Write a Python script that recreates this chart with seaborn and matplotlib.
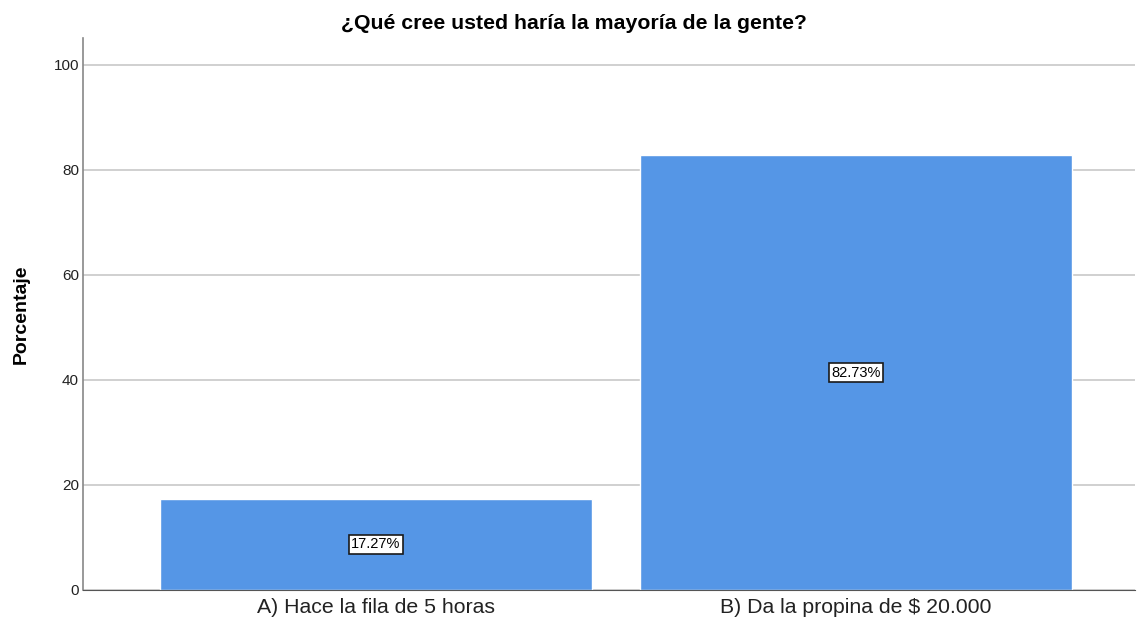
import pandas as pd
import matplotlib.pyplot as plt
import seaborn as sns

categorias = ["A) Hace la fila de 5 horas", "B) Da la propina de $ 20.000"]
porcentajes = [17.27, 82.73]
etiquetas = ["17.27%", "82.73%"]

df = pd.DataFrame({"respuesta": categorias, "porcentaje": porcentajes})

sns.set_style("white")
plt.rcParams["font.family"] = ["Liberation Sans", "DejaVu Sans"]
plt.rcParams["text.color"] = "black"
plt.rcParams["axes.labelcolor"] = "black"
plt.rcParams["xtick.color"] = "black"
plt.rcParams["ytick.color"] = "black"

fig = plt.figure(figsize=(11.38, 6.24), dpi=100)
ax = fig.add_axes([0.073, 0.055, 0.924, 0.884])

ax.yaxis.grid(True, color="#c8c8c8", linewidth=1.2)
ax.set_axisbelow(True)

sns.barplot(data=df, x="respuesta", y="porcentaje", color="#5596e6",
            saturation=1, width=0.9, ax=ax)

for i, (v, t) in enumerate(zip(porcentajes, etiquetas)):
    ax.text(i, v / 2, t, ha="center", va="center", fontsize=10.5, color="black",
            bbox=dict(boxstyle="square,pad=0.15", facecolor="white",
                      edgecolor="#1a1a1a", linewidth=1.2))

ax.set_ylim(0, 105.1)
ax.set_xlim(-0.61, 1.58)
ax.set_yticks([0, 20, 40, 60, 80, 100])
ax.tick_params(axis="y", labelsize=11, length=0, pad=3, labelcolor="#222222")
ax.tick_params(axis="x", labelsize=15.3, length=0, pad=6, labelcolor="#222222")

ax.spines["top"].set_visible(False)
ax.spines["right"].set_visible(False)
ax.spines["left"].set_color("#888888")
ax.spines["left"].set_linewidth(1.2)
ax.spines["bottom"].set_color("#555555")

ax.set_xlabel("")
ax.set_ylabel("Porcentaje", fontsize=14, fontweight="bold", labelpad=17)
fig.suptitle("¿Qué cree usted haría la mayoría de la gente?", x=0.504, y=0.978,
             fontsize=15.3, fontweight="bold")

fig.savefig("out.png", dpi=100)
